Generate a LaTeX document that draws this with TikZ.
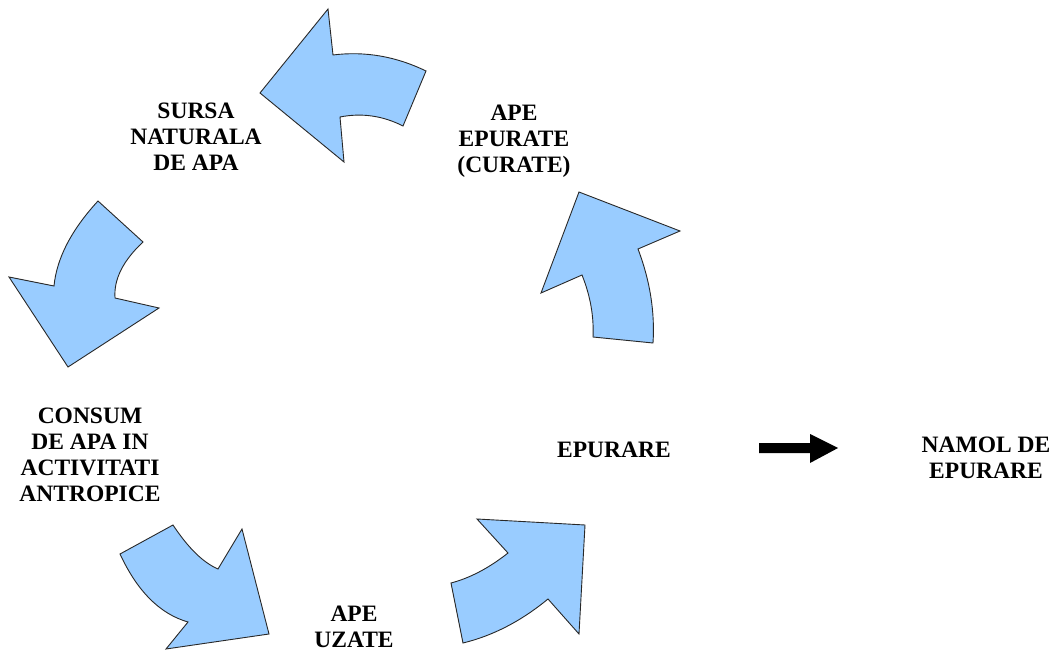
\documentclass[tikz,border=0pt]{standalone}
\usepackage{fontspec}
\setmainfont{Liberation Serif}
\begin{document}
\begin{tikzpicture}[x=1pt,y=-1pt,
  bluearrow/.style={fill={rgb,255:red,153;green,204;blue,255},draw={rgb,255:red,40;green,40;blue,40},line width=0.9pt,line join=miter},
  lbl/.style={align=center,inner sep=0pt,font=\fontsize{23.5}{26}\selectfont\bfseries}]
\useasboundingbox (0,0) rectangle (1062,660);
% top arrow (pointing left)
\draw[bluearrow] (328,9) -- (333,55) .. controls (364.7,51) and (395.7,56.3) .. (426,71) -- (403,126)
  .. controls (382.7,115.7) and (361.7,112.7) .. (340,117) -- (344,162) -- (260,93) -- cycle;
% left arrow (pointing down)
\draw[bluearrow] (98,201) -- (143,242) .. controls (123,260.7) and (113.7,279.3) .. (115,298) -- (159,308)
  -- (68,367) -- (9,277) -- (54,286) .. controls (56.7,258.3) and (71.3,230) .. cycle;
% bottom-left arrow
\draw[bluearrow] (173,525) -- (120,554) .. controls (137.3,591.3) and (160,614) .. (188,622) -- (166,649)
  -- (269,634) -- (242,529) -- (218,569) .. controls (203.3,562.7) and (188.3,548.1) .. cycle;
% bottom-right arrow
\draw[bluearrow] (451,583) -- (463,643) .. controls (493,635.7) and (521.3,621) .. (548,599) -- (579,634)
  -- (585,525) -- (477,519) -- (508,553) .. controls (489,568) and (470,578) .. cycle;
% right arrow (pointing up)
\draw[bluearrow] (593,337) -- (653,343) .. controls (655,312) and (650,280.7) .. (638,249) -- (680,231)
  -- (579,192) -- (541,293) -- (582,275) .. controls (590.3,295.7) and (594,316.3) .. cycle;
% black arrow
\fill[black] (759,443) -- (810,443) -- (810,434) -- (838,448) -- (810,463) -- (810,453) -- (759,453) -- cycle;
% labels
\node[lbl] (sursa) at (196,137) {SURSA\\NATURALA\\DE APA};
\node[lbl] (epurate) at (514,141) {APE\\EPURATE\\(CURATE)};
\node[lbl] (consum) at (90,455) {CONSUM\\DE APA IN\\ACTIVITATI\\ANTROPICE};
\node[lbl] (uzate) at (354,627) {APE\\UZATE};
\node[lbl] (epurare) at (614,450) {EPURARE};
\node[lbl] (namol) at (986,458) {NAMOL DE\\EPURARE};
\end{tikzpicture}
\end{document}
